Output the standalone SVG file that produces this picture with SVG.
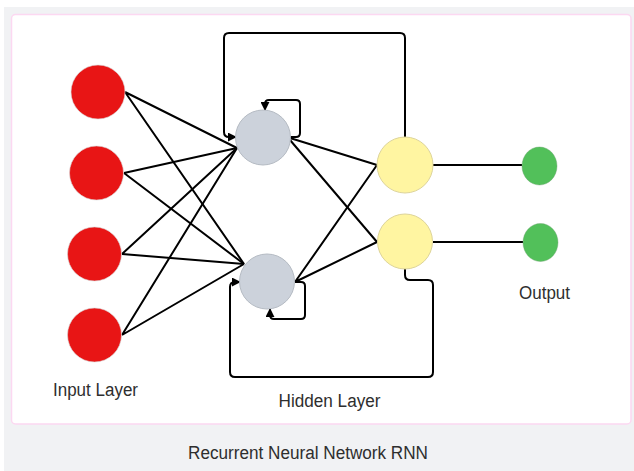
<svg xmlns="http://www.w3.org/2000/svg" width="634" height="471" viewBox="0 0 634 471">
<style>
.lbl{font-family:"Liberation Sans",Arial,sans-serif;font-size:18px;fill:#2e2e2e}
.in{fill:#e81515;stroke:#d9d9d9;stroke-width:0.6}
.hid{fill:#ccd2db;stroke:#b5bbc3;stroke-width:1}
.yel{fill:#fff5a1;stroke:#ddd49a;stroke-width:1}
.out{fill:#52c05a;stroke:#6aa06c;stroke-width:0.4}
.ln{fill:none;stroke:#000;stroke-width:2;stroke-linejoin:round}
.lp{fill:none;stroke:#000;stroke-width:2;stroke-linejoin:round}
</style>
<defs>
<marker id="ah" viewBox="0 0 10 10" refX="9" refY="5" markerWidth="4.5" markerHeight="4.5" orient="auto" markerUnits="strokeWidth">
<path d="M0,0 L10,5 L0,10 z" fill="#000"/>
</marker>
</defs>
<rect x="4" y="7" width="630" height="464" fill="#f1f2f4"/>
<rect x="11.5" y="14.5" width="619.5" height="409.5" rx="4" fill="#fff" stroke="#fcd8f1" stroke-width="1.5"/>

<g id="connectors">
<path class="ln" d="M125,92 L237,148 M125,92 L244,264"/>
<path class="ln" d="M124,173 L237,148 M124,173 L244,264"/>
<path class="ln" d="M122,254 L237,148 M122,254 L244,264"/>
<path class="ln" d="M122,335 L237,148 M122,335 L244,264"/>
<path class="ln" d="M290,138 L377,165 M290,140 L377,242"/>
<path class="ln" d="M295,282 L377,165 M295,282 L377,242"/>
<path class="ln" d="M433,165 L522,165 M433,242 L523,242"/>
<path class="lp" marker-end="url(#ah)" d="M405,138 V38 Q405,33 400,33 H229 Q224,33 224,38 V132 Q224,137 229,137 H236"/>
<path class="lp" marker-end="url(#ah)" d="M290,137 H296 Q300,137 300,133 V104 Q300,100 296,100 H269 Q265,100 265,104 V110"/>
<path class="lp" marker-end="url(#ah)" d="M295,282 H301 Q305,282 305,286 V315 Q305,319 301,319 H274 Q270,319 270,315 V309"/>
<path class="lp" marker-end="url(#ah)" d="M405,268 V275 Q405,280 410,280 H428 Q433,280 433,285 V372 Q433,377 428,377 H235 Q230,377 230,372 V287 Q230,282 235,282 H240"/>
</g>

<g id="input1"><circle class="in" cx="98" cy="92" r="27"/></g>
<g id="input2"><circle class="in" cx="96.5" cy="173" r="27"/></g>
<g id="input3"><circle class="in" cx="94.5" cy="254" r="27"/></g>
<g id="input4"><circle class="in" cx="94.5" cy="335" r="27"/></g>

<g id="hidden1"><circle class="hid" cx="263" cy="137.5" r="27.5"/></g>
<g id="hidden2"><circle class="hid" cx="267" cy="281.5" r="27.5"/></g>

<g id="yellow1"><circle class="yel" cx="405" cy="165" r="28"/></g>
<g id="yellow2"><circle class="yel" cx="405" cy="241.5" r="27.5"/></g>

<g id="output1"><ellipse class="out" cx="539.5" cy="166" rx="17.5" ry="19"/></g>
<g id="output2"><ellipse class="out" cx="540.5" cy="242.5" rx="17.5" ry="19"/></g>

<g id="labels">
<text class="lbl" x="53" y="395.5" textLength="85" lengthAdjust="spacingAndGlyphs">Input Layer</text>
<text class="lbl" x="278.5" y="406.5" textLength="102" lengthAdjust="spacingAndGlyphs">Hidden Layer</text>
<text class="lbl" x="519" y="298.5" textLength="51" lengthAdjust="spacingAndGlyphs">Output</text>
<text class="lbl" x="188" y="458.5" textLength="240" lengthAdjust="spacingAndGlyphs">Recurrent Neural Network RNN</text>
</g>
</svg>
